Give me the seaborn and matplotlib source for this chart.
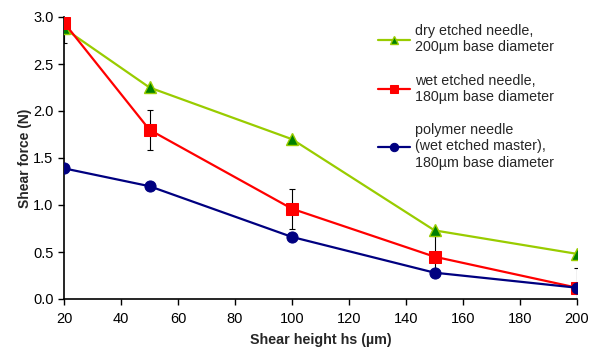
import matplotlib
matplotlib.use("Agg")
import matplotlib.pyplot as plt
import seaborn as sns
import pandas as pd

heights = [20, 50, 100, 150, 200]
dry_force = [2.88, 2.25, 1.70, 0.73, 0.48]
wet_force = [2.94, 1.80, 0.96, 0.45, 0.12]
wet_err = [0.22, 0.21, 0.21, 0.22, 0.21]
poly_force = [1.39, 1.20, 0.66, 0.28, 0.12]

labels = ["dry etched needle,\n200µm base diameter",
          "wet etched needle,\n180µm base diameter",
          "polymer needle\n(wet etched master),\n180µm base diameter"]

sns.set_style("ticks")
plt.rcParams['font.family'] = ['Liberation Sans', 'DejaVu Sans']

fig = plt.figure(figsize=(5.93, 3.49), dpi=100)
ax = fig.add_axes([64/593, 50/349, (577-64)/593, (299-17)/349])

ax.errorbar(heights, wet_force, yerr=wet_err, fmt='none', ecolor='black',
            elinewidth=0.8, capsize=2.5, capthick=0.8, zorder=1)

df_dry = pd.DataFrame({"h": heights, "f": dry_force})
df_wet = pd.DataFrame({"h": heights, "f": wet_force})
df_poly = pd.DataFrame({"h": heights, "f": poly_force})

sns.lineplot(data=df_dry, x="h", y="f", ax=ax, color="#99CC00", lw=1.6,
             marker="^", markersize=9, markerfacecolor="#008000",
             markeredgecolor="#99CC00", markeredgewidth=1.0, label=labels[0], zorder=3)
sns.lineplot(data=df_wet, x="h", y="f", ax=ax, color="#FF0000", lw=1.6,
             marker="s", markersize=8.5, markerfacecolor="#FF0000",
             markeredgecolor="#FF0000", label=labels[1], zorder=3)
sns.lineplot(data=df_poly, x="h", y="f", ax=ax, color="#000080", lw=1.6,
             marker="o", markersize=8, markerfacecolor="#000080",
             markeredgecolor="#000080", label=labels[2], zorder=3)

ax.set_xlim(20, 200)
ax.set_ylim(0, 3.0)
ax.set_xticks([20, 40, 60, 80, 100, 120, 140, 160, 180, 200])
ax.set_yticks([0, 0.5, 1.0, 1.5, 2.0, 2.5, 3.0])
ax.set_yticklabels([f"{v:.1f}" for v in [0, 0.5, 1.0, 1.5, 2.0, 2.5, 3.0]])
ax.tick_params(labelsize=10.5, length=4, width=1, colors='black')
ax.tick_params(axis='x', pad=5.5)
for s in ["left", "bottom"]:
    ax.spines[s].set_linewidth(1.2)
    ax.spines[s].set_color("black")
sns.despine(ax=ax)
ax.set_xlabel("Shear height hs (µm)", fontsize=10.3, fontweight="bold", labelpad=5)
ax.set_ylabel("Shear force (N)", fontsize=10, fontweight="bold", labelpad=1)

leg = ax.legend(loc="upper left", bbox_to_anchor=(0.593, 1.01), frameon=False,
                fontsize=10.3, handlelength=2.2, handletextpad=0.4,
                labelspacing=1.35, borderaxespad=0.3)
for h in leg.legend_handles:
    h.set_markersize(6)

fig.savefig("out.png", dpi=100)
